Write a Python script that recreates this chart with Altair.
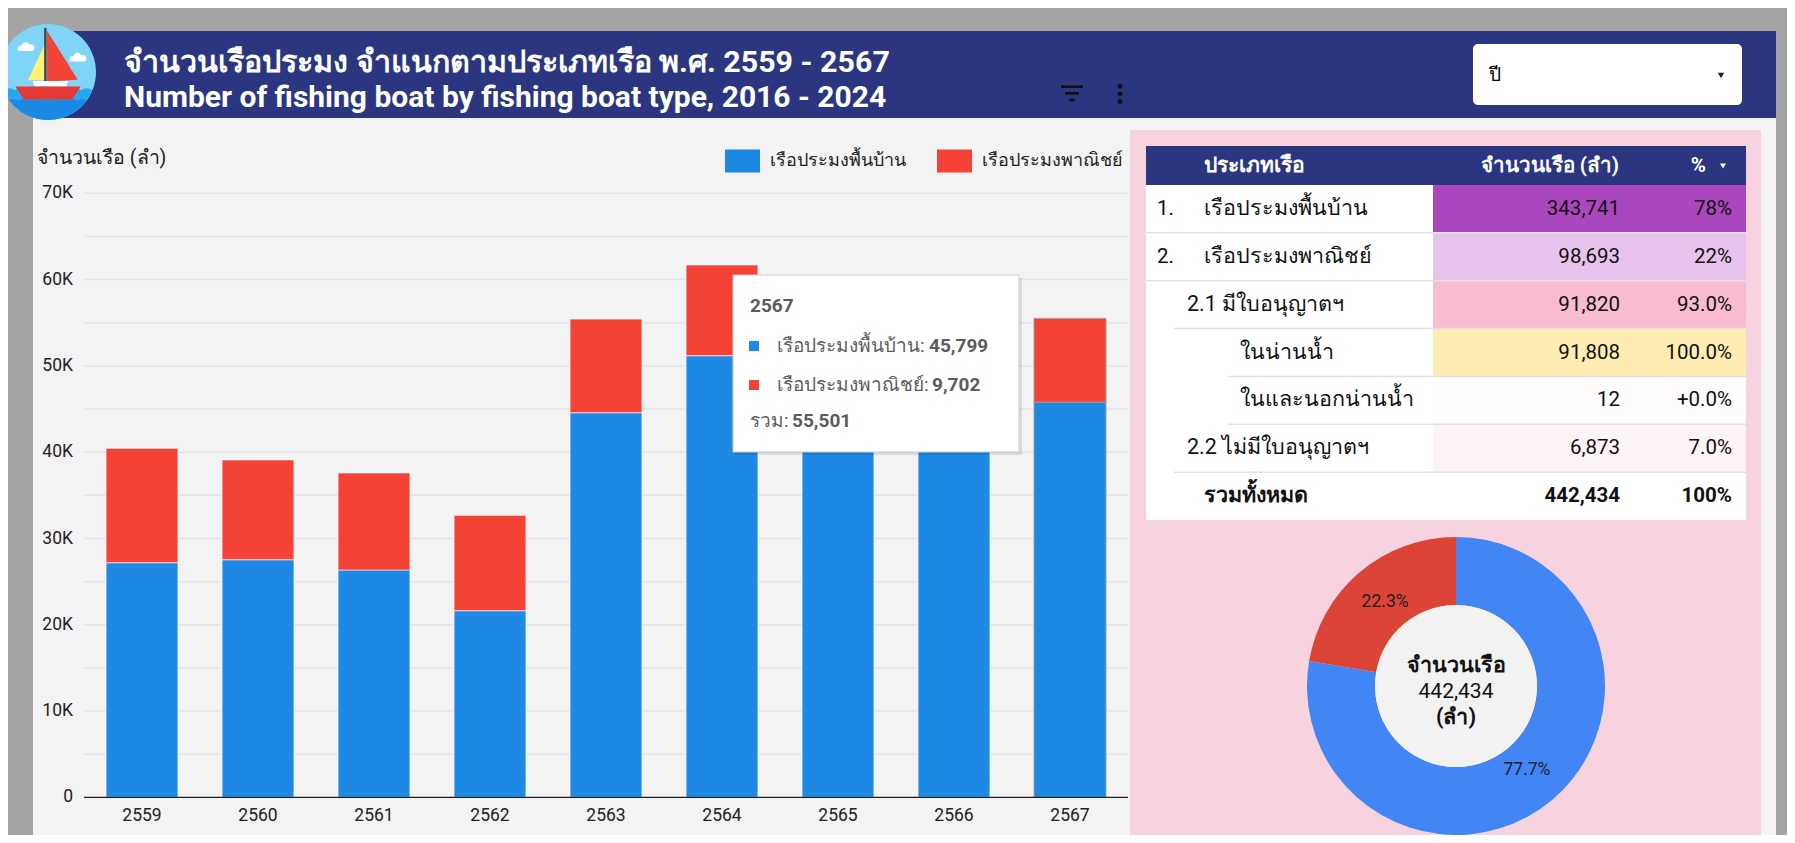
import altair as alt
import pandas as pd

FONT = "Roboto"
W, H = 1779, 827
OFF = 8


def P(v):
    """reference pixel -> chart pixel"""
    return v - OFF


# ---------------- data ----------------
years = ["2559", "2560", "2561", "2562", "2563", "2564", "2565", "2566", "2567"]
native = [27200, 27550, 26350, 21640, 44580, 51180, 49500, 49942, 45799]
commercial = [13250, 11550, 11250, 11050, 10850, 10510, 10400, 10131, 9702]
series_names = ["เรือประมงพื้นบ้าน", "เรือประมงพาณิชย์"]
bar_colors = ["#1e88e5", "#f44336"]
y_ticks = [0, 10000, 20000, 30000, 40000, 50000, 60000, 70000]
y_tick_labels = ["0", "10K", "20K", "30K", "40K", "50K", "60K", "70K"]
grid_ticks = [0, 5000, 10000, 15000, 20000, 25000, 30000, 35000, 40000,
              45000, 50000, 55000, 60000, 65000, 70000]

table_prefix = ["1.", "2.", "", "", "", "", ""]
table_labels = ["เรือประมงพื้นบ้าน", "เรือประมงพาณิชย์", "2.1 มีใบอนุญาตฯ", "ในน่านน้ำ",
                "ในและนอกน่านน้ำ", "2.2 ไม่มีใบอนุญาตฯ", "รวมทั้งหมด"]
table_levels = [0, 0, 1, 2, 2, 1, 0]
table_counts = [343741, 98693, 91820, 91808, 12, 6873, 442434]
table_pcts = ["78%", "22%", "93.0%", "100.0%", "+0.0%", "7.0%", "100%"]
table_fills = ["#ab47bc", "#e6c3eb", "#f8bbd0", "#ffecb3", "#fffdfc", "#fdf4f7", "#ffffff"]

donut_values = [343741, 98693]
donut_colors = ["#4285f4", "#db4437"]
tooltip_year = "2567"

# ---------------- layout constants ----------------
NAVY = "#2c3680"
PANEL = "#f3f3f3"
PINK = "#f6d3df"
LABEL_X = {0: P(1204), 1: P(1187), 2: P(1240)}
SEP_X = {0: P(1146), 1: P(1174), 2: P(1228)}

one = pd.DataFrame({"k": [0]})


def txt(text, x, y, size, color="#222222", weight="normal", align="left", baseline="middle"):
    return alt.Chart(one).mark_text(
        font=FONT, fontSize=size, color=color, fontWeight=weight, align=align, baseline=baseline
    ).encode(x=alt.value(x), y=alt.value(y), text=alt.value(text))


def rects(rows, **mk):
    df = pd.DataFrame(rows, columns=["x", "x2", "y", "y2", "fill"])
    return alt.Chart(df).mark_rect(**mk).encode(
        x=alt.X("x:Q", scale=None, axis=None), x2="x2:Q",
        y=alt.Y("y:Q", scale=None, axis=None), y2="y2:Q",
        color=alt.Color("fill:N", scale=None),
    )


# ---------------- backgrounds ----------------
bg = rects([
    (P(33), P(1776), P(31), P(118), NAVY),
    (P(33), P(1776), P(118), H, PANEL),
    (P(1130), P(1761), P(130), H, PINK),
    (P(1146), P(1746), P(146), P(185), NAVY),
    (P(1146), P(1746), P(185), P(520), "#ffffff"),
])
dropdown = rects([(P(1473), P(1742), P(44), P(105), "#ffffff")], cornerRadius=5)

# ---------------- logo ----------------
SEA1 = ("M-0.925,0.38 Q-0.81,0.3 -0.69,0.38 Q-0.58,0.3 -0.46,0.38 Q-0.35,0.3 -0.23,0.38 "
        "Q-0.12,0.3 0,0.38 Q0.12,0.3 0.23,0.38 Q0.35,0.3 0.46,0.38 Q0.58,0.3 0.69,0.38 "
        "Q0.81,0.3 0.925,0.38 A1,1 0 0 1 -0.925,0.38 Z")
SEA2 = ("M-0.835,0.6 Q-0.73,0.52 -0.626,0.6 Q-0.52,0.52 -0.418,0.6 Q-0.31,0.52 -0.209,0.6 "
        "Q-0.1,0.52 0,0.6 Q0.1,0.52 0.209,0.6 Q0.31,0.52 0.418,0.6 Q0.52,0.52 0.626,0.6 "
        "Q0.73,0.52 0.8,0.6 A1,1 0 0 1 -0.8,0.6 Z")
CLOUD1 = "M-0.62,-0.44 A0.07,0.07 0 0 1 -0.55,-0.55 A0.09,0.09 0 0 1 -0.38,-0.57 A0.07,0.07 0 0 1 -0.32,-0.44 Z"
CLOUD2 = "M0.46,-0.22 A0.07,0.07 0 0 1 0.53,-0.33 A0.09,0.09 0 0 1 0.7,-0.35 A0.07,0.07 0 0 1 0.76,-0.22 Z"
YELLOW = "M-0.06,-0.6 L-0.06,0.17 L-0.42,0.17 Z"
REDSAIL = "M-0.02,-0.86 L0.62,0.16 L-0.02,0.2 Z"
MAST = "M-0.08,-0.92 L-0.03,-0.92 L-0.03,0.26 L-0.08,0.26 Z"
CABIN = "M-0.32,0.19 L0.42,0.19 L0.38,0.3 L-0.28,0.3 Z"
HULL = "M-0.68,0.3 L0.68,0.3 L0.5,0.58 L-0.5,0.58 Z"
logo_df = pd.DataFrame({
    "shape": ["circle", CLOUD1, CLOUD2, SEA1, YELLOW, REDSAIL, MAST, CABIN, HULL, SEA2],
    "fill": ["#7fd4f8", "#ffffff", "#ffffff", "#29a8f0", "#fff176", "#f44336", "#37474f",
             "#ffffff", "#e53935", "#1e88e5"],
})
logo = alt.Chart(logo_df).mark_point(filled=True, opacity=1, strokeWidth=0, size=96 * 96).encode(
    x=alt.value(P(48)), y=alt.value(P(72)),
    shape=alt.Shape("shape:N", scale=None),
    color=alt.Color("fill:N", scale=None),
)

# ---------------- header texts / icons ----------------
title1 = txt("จำนวนเรือประมง จำแนกตามประเภทเรือ พ.ศ. 2559 - 2567", P(124), P(72), 30.4,
             color="#ffffff", weight="bold", baseline="alphabetic")
title2 = txt("Number of fishing boat by fishing boat type, 2016 - 2024", P(124), P(107), 30,
             color="#ffffff", weight="bold", baseline="alphabetic")
icon_df = pd.DataFrame({
    "x": [P(1061), P(1065), P(1069.5)], "x2": [P(1083), P(1079), P(1074.5)],
    "y": [P(86.7), P(93.3), P(100)],
})
filter_icon = alt.Chart(icon_df).mark_rule(color="#111111", strokeWidth=2.6).encode(
    x=alt.X("x:Q", scale=None, axis=None), x2="x2:Q", y=alt.Y("y:Q", scale=None, axis=None))
dots_df = pd.DataFrame({"y": [P(86.5), P(94), P(101.5)]})
dots = alt.Chart(dots_df).mark_point(filled=True, color="#111111", size=24, opacity=1).encode(
    x=alt.value(P(1120)), y=alt.Y("y:Q", scale=None, axis=None))
dd_text = txt("ปี", P(1489), P(75), 19, color="#000000")
dd_tri = alt.Chart(one).mark_point(shape="triangle-down", filled=True, color="#222222", size=40, opacity=1).encode(
    x=alt.value(P(1721)), y=alt.value(P(75.5)))

# ---------------- bar chart ----------------
bar_rows = []
for i, yr in enumerate(years):
    bar_rows.append({"year": yr, "series": series_names[0], "value": native[i], "k": 0})
    bar_rows.append({"year": yr, "series": series_names[1], "value": commercial[i], "k": 1})
bar_df = pd.DataFrame(bar_rows)

xs = alt.Scale(domain=years, range=[P(84), P(1128)], paddingInner=0.38, paddingOuter=0.19)
ys = alt.Scale(domain=[0, 70000], range=[P(797.4), P(193.3)], nice=False)

grid = alt.Chart(pd.DataFrame({"tick": grid_ticks})).mark_rule(color="#e4e4e4", strokeWidth=1.5).encode(
    y=alt.Y("tick:Q", scale=ys, axis=None), x=alt.value(P(84)), x2=alt.value(P(1128)))
bars = alt.Chart(bar_df).mark_bar(strokeWidth=1.2).encode(
    x=alt.X("year:O", scale=xs, axis=None),
    y=alt.Y("value:Q", stack="zero", scale=ys, axis=None),
    color=alt.Color(
        "series:N", scale=alt.Scale(domain=series_names, range=bar_colors),
        legend=alt.Legend(
            orient="none", legendX=P(725), legendY=P(143), direction="horizontal", title=None,
            symbolType="M-1,-0.66L1,-0.66L1,0.66L-1,0.66Z", symbolSize=1225, symbolStrokeWidth=0,
            symbolOpacity=1, labelFont=FONT, labelFontSize=18, labelColor="#222222",
            labelOffset=10, columnPadding=31, labelLimit=400,
        ),
    ),
    order=alt.Order("k:Q"),
    stroke=alt.condition(f"datum.year == '{tooltip_year}'", alt.value("#9a9a9a"), alt.value("#ffffff")),
    strokeOpacity=alt.condition(f"datum.year == '{tooltip_year}'", alt.value(0.7), alt.value(0.55)),
)
zero_line = alt.Chart(pd.DataFrame({"tick": [0]})).mark_rule(color="#222222", strokeWidth=1.2).encode(
    y=alt.Y("tick:Q", scale=ys, axis=None), x=alt.value(P(84)), x2=alt.value(P(1128)))
ylab = alt.Chart(pd.DataFrame({"tick": y_ticks, "label": y_tick_labels})).mark_text(
    font=FONT, fontSize=17.5, color="#222222", align="right", baseline="middle").encode(
    y=alt.Y("tick:Q", scale=ys, axis=None), x=alt.value(P(73)), text="label:N")
xlab = alt.Chart(pd.DataFrame({"year": years})).mark_text(
    font=FONT, fontSize=17.5, color="#222222", align="center", baseline="middle").encode(
    x=alt.X("year:O", scale=xs, axis=None), y=alt.value(P(816)), text="year:N")
ytitle = txt("จำนวนเรือ (ลำ)", P(37), P(158), 19.5)
bar_group = alt.layer(grid, bars, zero_line, ylab, xlab, ytitle)

# ---------------- tooltip ----------------
ti = years.index(tooltip_year)
tt_box = rects([(P(735), P(1022), P(278), P(455), "#000000")], opacity=0.10)
tt_box2 = rects([(P(733), P(1019), P(275), P(452), "#ffffff")], stroke="#cfcfcf", strokeWidth=1)
tt_sq = alt.Chart(pd.DataFrame({"y": [P(346), P(385)], "c": bar_colors})).mark_point(
    shape="square", filled=True, size=100, opacity=1).encode(
    x=alt.value(P(754)), y=alt.Y("y:Q", scale=None, axis=None), color=alt.Color("c:N", scale=None))
TT = "#5c5c5c"
tt_layers = [
    tt_box, tt_box2, tt_sq,
    txt(tooltip_year, P(750), P(306), 19, color=TT, weight="bold"),
    txt(series_names[0] + ":", P(777), P(346), 19, color=TT),
    txt(f"{native[ti]:,}", P(929), P(346), 19, color=TT, weight="bold"),
    txt(series_names[1] + ":", P(777), P(385), 19, color=TT),
    txt(f"{commercial[ti]:,}", P(932), P(385), 19, color=TT, weight="bold"),
    txt("รวม:", P(750), P(421), 19, color=TT),
    txt(f"{native[ti] + commercial[ti]:,}", P(792), P(421), 19, color=TT, weight="bold"),
]

# ---------------- table ----------------
rows = [f"r{i + 1}" for i in range(len(table_labels))]
tdf = pd.DataFrame({
    "row": rows, "prefix": table_prefix, "label": table_labels, "level": table_levels,
    "count": [f"{c:,}" for c in table_counts], "pct": table_pcts, "fill": table_fills,
    "bold": [0, 0, 0, 0, 0, 0, 1],
})
tdf["label_x"] = [LABEL_X[l] for l in table_levels]
tdf["sep_x"] = [SEP_X[l] for l in table_levels]
rs = alt.Scale(domain=rows, range=[P(185), P(520)], paddingInner=0, paddingOuter=0)
ry = alt.Y("row:O", scale=rs, axis=None)

cells = alt.Chart(tdf).mark_rect().encode(
    y=ry, x=alt.value(P(1433)), x2=alt.value(P(1746)), color=alt.Color("fill:N", scale=None))
seps = alt.Chart(tdf.iloc[:6]).mark_rule(color="#e2e2e2", strokeWidth=1.5).encode(
    y=alt.Y("row:O", scale=rs, axis=None, bandPosition=1),
    x=alt.X("sep_x:Q", scale=None, axis=None), x2=alt.value(P(1746)))


def ttext(field, x, align, weight, flt, xfield=False, size=20.5):
    enc = dict(y=ry, text=f"{field}:N")
    enc["x"] = alt.X("label_x:Q", scale=None, axis=None) if xfield else alt.value(x)
    return alt.Chart(tdf).transform_filter(flt).mark_text(
        font=FONT, fontSize=size, color="#111111", align=align, baseline="middle", fontWeight=weight
    ).encode(**enc)


table_group = alt.layer(
    cells, seps,
    ttext("prefix", P(1157), "left", "normal", "datum.bold == 0"),
    ttext("label", 0, "left", "normal", "datum.bold == 0", xfield=True, size=21.5),
    ttext("label", 0, "left", "bold", "datum.bold == 1", xfield=True, size=21.5),
    ttext("count", P(1620), "right", "normal", "datum.bold == 0"),
    ttext("count", P(1620), "right", "bold", "datum.bold == 1"),
    ttext("pct", P(1732), "right", "normal", "datum.bold == 0"),
    ttext("pct", P(1732), "right", "bold", "datum.bold == 1"),
)
th1 = txt("ประเภทเรือ", P(1204), P(166), 21, color="#ffffff", weight="bold")
th2 = txt("จำนวนเรือ (ลำ)", P(1619), P(166), 20.5, color="#ffffff", weight="bold", align="right")
th3 = txt("%", P(1706), P(166), 20.5, color="#ffffff", weight="bold", align="right")
th_tri = alt.Chart(one).mark_point(shape="triangle-down", filled=True, color="#ffffff", size=36, opacity=1).encode(
    x=alt.value(P(1723)), y=alt.value(P(166)))

# ---------------- donut ----------------
CX, CY = P(1456), P(686)
tot = sum(donut_values)
ddf = pd.DataFrame({
    "series": series_names, "value": donut_values, "k": [0, 1],
    "pct": [f"{v / tot * 100:.1f}%" for v in donut_values],
})
arcs = alt.Chart(ddf).mark_arc().encode(
    theta=alt.Theta("value:Q", stack=True),
    color=alt.Color("series:N", scale=alt.Scale(domain=series_names, range=donut_colors), legend=None),
    order=alt.Order("k:Q"),
    x=alt.value(CX), y=alt.value(CY), radius=alt.value(149), radius2=alt.value(81),
)
arc_lab = alt.Chart(ddf).mark_text(font=FONT, fontSize=17.5, color="#222222").encode(
    theta=alt.Theta("value:Q", stack=True), order=alt.Order("k:Q"), text="pct:N",
    x=alt.value(CX), y=alt.value(CY), radius=alt.value(110),
)
donut_group = alt.layer(arcs, arc_lab)
hole = alt.Chart(one).mark_point(shape="circle", filled=True, color="#f2f2f2", size=162 * 162,
                                 opacity=1, strokeWidth=0).encode(x=alt.value(CX), y=alt.value(CY))
c1 = txt("จำนวนเรือ", CX, P(666), 21.5, color="#111111", weight="bold", align="center")
c2 = txt(f"{tot:,}", CX, P(692), 21, color="#111111", align="center")
c3 = txt("(ลำ)", CX, P(718), 21.5, color="#111111", weight="bold", align="center")

chart = alt.layer(
    bg, dropdown, logo, title1, title2, filter_icon, dots, dd_text, dd_tri,
    bar_group, *tt_layers,
    table_group, th1, th2, th3, th_tri,
    donut_group, hole, c1, c2, c3,
).resolve_scale(
    x="independent", y="independent", color="independent", theta="independent",
).properties(
    width=W, height=H, background="#a4a4a4", padding=0,
    autosize=alt.AutoSizeParams(type="none"),
).configure_view(strokeWidth=0)

chart.save("out.html", embed_options={"renderer": "svg", "actions": False})
